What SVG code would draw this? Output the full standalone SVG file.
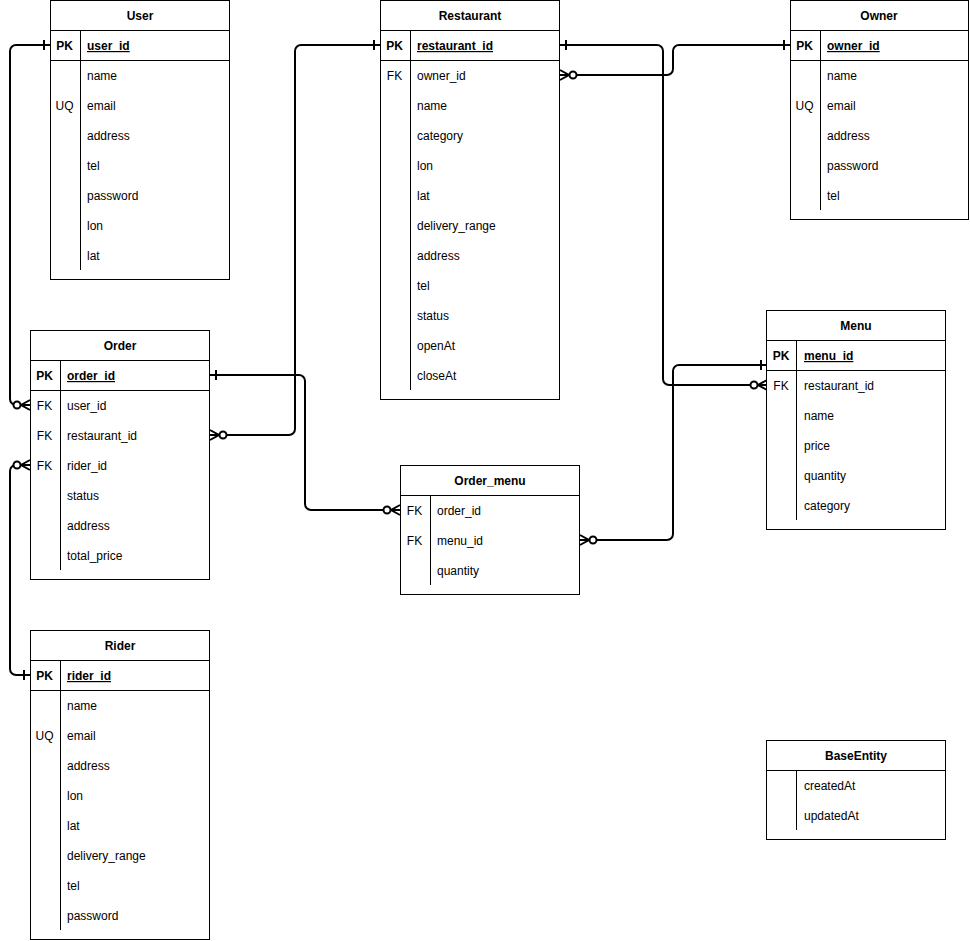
<svg xmlns="http://www.w3.org/2000/svg" width="970" height="941" viewBox="0 0 970 941">
<style>
  .box { fill: #ffffff; stroke: #000000; stroke-width: 1; }
  .ln { stroke: #000000; stroke-width: 1; fill: none; }
  text { font-family: "Liberation Sans", Arial, Helvetica, sans-serif; font-size: 12px; fill: #000000; }
  .title { font-weight: bold; text-anchor: middle; }
  .key { text-anchor: middle; }
  .pk { font-weight: bold; }
  .pkf { font-weight: bold; text-decoration: underline; }
  .conn { stroke: #000000; stroke-width: 2; fill: none; }
  .mk { stroke: #000000; stroke-width: 2; fill: none; }
  .mkc { stroke: #000000; stroke-width: 2; fill: #ffffff; }
</style>
<defs>
  <g id="zm">
    <path class="mk" d="M0,-5 L9,0 L0,5 M0,0 H10"/>
    <circle class="mkc" cx="13" cy="0" r="3.5"/>
  </g>
  <g id="one">
    <path class="mk" d="M0,0 H8 M6,-5 V5"/>
  </g>
</defs>

<g id="connectors">
  <path class="conn" d="M50,45 H16 A6,6 0 0 0 10,51 V399 A6,6 0 0 0 16,405 H30"/>
  <path class="conn" d="M210,435 H289 A6,6 0 0 0 295,429 V51 A6,6 0 0 1 301,45 H380"/>
  <path class="conn" d="M560,75 H667 A6,6 0 0 0 673,69 V51 A6,6 0 0 1 679,45 H790"/>
  <path class="conn" d="M560,45 H657 A6,6 0 0 1 663,51 V379 A6,6 0 0 0 669,385 H767"/>
  <path class="conn" d="M210,375 H299 A6,6 0 0 1 305,381 V504 A6,6 0 0 0 311,510 H400"/>
  <path class="conn" d="M580,540 H667 A6,6 0 0 0 673,534 V371 A6,6 0 0 1 679,365 H767"/>
  <path class="conn" d="M30,465 H16 A6,6 0 0 0 10,471 V669 A6,6 0 0 0 16,675 H30"/>
  <use href="#one" transform="translate(50,45) scale(-1,1)"/>
  <use href="#zm" transform="translate(30,405) scale(-1,1)"/>
  <use href="#zm" transform="translate(210,435)"/>
  <use href="#one" transform="translate(380,45) scale(-1,1)"/>
  <use href="#zm" transform="translate(560,75)"/>
  <use href="#one" transform="translate(790,45) scale(-1,1)"/>
  <use href="#one" transform="translate(560,45)"/>
  <use href="#zm" transform="translate(767,385) scale(-1,1)"/>
  <use href="#one" transform="translate(210,375)"/>
  <use href="#zm" transform="translate(400,510) scale(-1,1)"/>
  <use href="#zm" transform="translate(580,540)"/>
  <use href="#one" transform="translate(767,365) scale(-1,1)"/>
  <use href="#zm" transform="translate(30,465) scale(-1,1)"/>
  <use href="#one" transform="translate(30,675) scale(-1,1)"/>
</g>

<g id="User">
  <rect class="box" x="50.5" y="0.5" width="179" height="279"/>
  <path class="ln" d="M50.5,30.5 H229.5 M50.5,60.5 H229.5 M80.5,30.5 V270"/>
  <text class="title" x="140" y="20">User</text>
  <text class="key pk" x="64.5" y="50">PK</text>
  <text class="pkf" x="87" y="50">user_id</text>
  <text x="87" y="80">name</text>
  <text class="key" x="64.5" y="110">UQ</text>
  <text x="87" y="110">email</text>
  <text x="87" y="140">address</text>
  <text x="87" y="170">tel</text>
  <text x="87" y="200">password</text>
  <text x="87" y="230">lon</text>
  <text x="87" y="260">lat</text>
</g>

<g id="Restaurant">
  <rect class="box" x="380.5" y="0.5" width="179" height="399"/>
  <path class="ln" d="M380.5,30.5 H559.5 M380.5,60.5 H559.5 M410.5,30.5 V390"/>
  <text class="title" x="470" y="20">Restaurant</text>
  <text class="key pk" x="394.5" y="50">PK</text>
  <text class="pkf" x="417" y="50">restaurant_id</text>
  <text class="key" x="394.5" y="80">FK</text>
  <text x="417" y="80">owner_id</text>
  <text x="417" y="110">name</text>
  <text x="417" y="140">category</text>
  <text x="417" y="170">lon</text>
  <text x="417" y="200">lat</text>
  <text x="417" y="230">delivery_range</text>
  <text x="417" y="260">address</text>
  <text x="417" y="290">tel</text>
  <text x="417" y="320">status</text>
  <text x="417" y="350">openAt</text>
  <text x="417" y="380">closeAt</text>
</g>

<g id="Owner">
  <rect class="box" x="790.5" y="0.5" width="178" height="219"/>
  <path class="ln" d="M790.5,30.5 H968.5 M790.5,60.5 H968.5 M820.5,30.5 V210"/>
  <text class="title" x="879" y="20">Owner</text>
  <text class="key pk" x="804.5" y="50">PK</text>
  <text class="pkf" x="827" y="50">owner_id</text>
  <text x="827" y="80">name</text>
  <text class="key" x="804.5" y="110">UQ</text>
  <text x="827" y="110">email</text>
  <text x="827" y="140">address</text>
  <text x="827" y="170">password</text>
  <text x="827" y="200">tel</text>
</g>

<g id="Order">
  <rect class="box" x="30.5" y="330.5" width="179" height="249"/>
  <path class="ln" d="M30.5,360.5 H209.5 M30.5,390.5 H209.5 M60.5,360.5 V570"/>
  <text class="title" x="120" y="350">Order</text>
  <text class="key pk" x="44.5" y="380">PK</text>
  <text class="pkf" x="67" y="380">order_id</text>
  <text class="key" x="44.5" y="410">FK</text>
  <text x="67" y="410">user_id</text>
  <text class="key" x="44.5" y="440">FK</text>
  <text x="67" y="440">restaurant_id</text>
  <text class="key" x="44.5" y="470">FK</text>
  <text x="67" y="470">rider_id</text>
  <text x="67" y="500">status</text>
  <text x="67" y="530">address</text>
  <text x="67" y="560">total_price</text>
</g>

<g id="Rider">
  <rect class="box" x="30.5" y="630.5" width="179" height="309"/>
  <path class="ln" d="M30.5,660.5 H209.5 M30.5,690.5 H209.5 M60.5,660.5 V930"/>
  <text class="title" x="120" y="650">Rider</text>
  <text class="key pk" x="44.5" y="680">PK</text>
  <text class="pkf" x="67" y="680">rider_id</text>
  <text x="67" y="710">name</text>
  <text class="key" x="44.5" y="740">UQ</text>
  <text x="67" y="740">email</text>
  <text x="67" y="770">address</text>
  <text x="67" y="800">lon</text>
  <text x="67" y="830">lat</text>
  <text x="67" y="860">delivery_range</text>
  <text x="67" y="890">tel</text>
  <text x="67" y="920">password</text>
</g>

<g id="Menu">
  <rect class="box" x="766.5" y="310.5" width="179" height="219"/>
  <path class="ln" d="M766.5,340.5 H945.5 M766.5,370.5 H945.5 M796.5,340.5 V520"/>
  <text class="title" x="856" y="330">Menu</text>
  <text class="key pk" x="781" y="360">PK</text>
  <text class="pkf" x="804" y="360">menu_id</text>
  <text class="key" x="781" y="390">FK</text>
  <text x="804" y="390">restaurant_id</text>
  <text x="804" y="420">name</text>
  <text x="804" y="450">price</text>
  <text x="804" y="480">quantity</text>
  <text x="804" y="510">category</text>
</g>

<g id="Order_menu">
  <rect class="box" x="400.5" y="465.5" width="179" height="129"/>
  <path class="ln" d="M400.5,495.5 H579.5 M430.5,495.5 V585"/>
  <text class="title" x="490" y="485">Order_menu</text>
  <text class="key" x="414.5" y="515">FK</text>
  <text x="437" y="515">order_id</text>
  <text class="key" x="414.5" y="545">FK</text>
  <text x="437" y="545">menu_id</text>
  <text x="437" y="575">quantity</text>
</g>

<g id="BaseEntity">
  <rect class="box" x="766.5" y="740.5" width="179" height="99"/>
  <path class="ln" d="M766.5,770.5 H945.5 M796.5,770.5 V830"/>
  <text class="title" x="856" y="760">BaseEntity</text>
  <text x="804" y="790">createdAt</text>
  <text x="804" y="820">updatedAt</text>
</g>
</svg>
